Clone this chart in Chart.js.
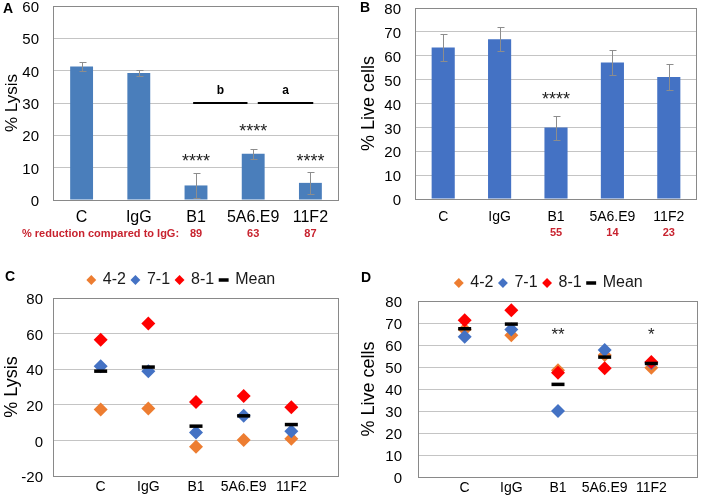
<!DOCTYPE html>
<html>
<head>
<meta charset="utf-8">
<script src="https://cdn.jsdelivr.net/npm/chart.js@4.4.1/dist/chart.umd.min.js"></script>
<style>
  html, body { margin: 0; padding: 0; background: #fff; }
  #wrap { position: relative; width: 708px; height: 497px; overflow: hidden; background: #fff; }
  canvas { position: absolute; }
</style>
</head>
<body>
<div id="wrap">
  <canvas id="chartA" width="354" height="250" style="left:0;top:0"></canvas>
  <canvas id="chartB" width="354" height="250" style="left:354px;top:0"></canvas>
  <canvas id="chartC" width="354" height="247" style="left:0;top:250px"></canvas>
  <canvas id="chartD" width="354" height="247" style="left:354px;top:250px"></canvas>
</div>
<script>
///////////////////////////////// DATA

const categories = ['C', 'IgG', 'B1', '5A6.E9', '11F2'];

// A : % lysis, mean + sd
const lysis = [41.3, 39.3, 4.5, 14.3, 5.3];
const lysisErr = [1.4, 0.8, 4.0, 1.6, 3.4];
const lysisStars = ['', '', '****', '****', '****'];
const lysisStarY = [null, null, 13.4, 22.7, 13.4];
const lysisReduction = ['', '', '89', '63', '87'];
// brackets between B1 / 5A6.E9 / 11F2
const bracketFrom = [1.95, 3.08];
const bracketTo = [2.9, 4.05];
const bracketText = ['b', 'a'];
const bracketY = 30;
const bracketTextY = 33.8;

// B : % live cells, mean + sd
const live = [63.5, 66.9, 29.9, 57.2, 51.1];
const liveErr = [5.5, 5.0, 5.0, 5.1, 5.3];
const liveStars = ['', '', '****', '', ''];
const liveStarY = [null, null, 43.9, null, null];
const liveReduction = ['', '', '55', '14', '23'];

// C : % lysis per donor
const lysis42 = [17.3, 17.9, -3.5, 0.2, 0.9];
const lysis71 = [41.7, 38.9, 4.5, 13.8, 5.2];
const lysis81 = [56.6, 65.7, 21.6, 25.0, 18.6];
const lysisAvg = [38.9, 41.2, 8.0, 13.8, 8.9];

// D : % live cells per donor
const live42 = [67.0, 64.4, 48.5, 55.5, 49.7];
const live71 = [63.8, 67.1, 30.0, 57.7, 51.8];
const live81 = [71.2, 75.8, 47.4, 49.4, 52.3];
const liveAvg = [67.4, 69.5, 42.1, 54.5, 51.6];
const liveDonorStars = ['', '', '**', '', '*'];
const liveDonorStarY = [null, null, 66.8, null, 66.8];

///////////////////////////////// STYLE

const FONT = '"Liberation Sans", Arial, Helvetica, sans-serif';
Chart.defaults.font.family = FONT;
Chart.defaults.color = '#000';

const frameColor = '#898989';
const gridColor = '#c4c4c4';
const redText = '#c8232f';

///////////////////////////////// PLUGIN : cadre, barres d'erreur, étoiles, textes

const panelDeco = {
    id: 'panelDeco',
    afterLayout(chart, args, opts) {
        //décale la légende
        if (opts.legendShift && chart.legend) {
            chart.legend.left += opts.legendShift;
            chart.legend.right += opts.legendShift;
        }
    },
    beforeDatasetsDraw(chart) {
        const a = chart.chartArea, ctx = chart.ctx;
        ctx.save();
        ctx.strokeStyle = frameColor;
        ctx.lineWidth = 1;
        ctx.strokeRect(a.left + 0.5, a.top + 0.5, a.right - a.left - 1, a.bottom - a.top);
        ctx.restore();
    },
    afterDatasetsDraw(chart, args, opts) {
        const ctx = chart.ctx, x = chart.scales.x, y = chart.scales.y, area = chart.chartArea;
        const base = opts.xBase || 0;
        const px = i => x.getPixelForValue(i + base);
        ctx.save();

        //barres d'erreur
        if (opts.err) {
            ctx.strokeStyle = '#8d8d8d';
            ctx.lineWidth = 1;
            opts.values.forEach((v, i) => {
                const cx = Math.round(px(i)) + 0.5;
                const hi = Math.round(y.getPixelForValue(v + opts.err[i])) + 0.5;
                const lo = Math.round(y.getPixelForValue(v - opts.err[i])) + 0.5;
                ctx.beginPath();
                ctx.moveTo(cx, hi); ctx.lineTo(cx, lo);
                ctx.moveTo(cx - 3, hi); ctx.lineTo(cx + 4, hi);
                ctx.moveTo(cx - 3, lo); ctx.lineTo(cx + 4, lo);
                ctx.stroke();
            });
        }

        //étoiles
        if (opts.stars) {
            ctx.fillStyle = '#222';
            ctx.font = opts.starSize + 'px ' + FONT;
            ctx.textAlign = 'center';
            ctx.textBaseline = 'alphabetic';
            opts.stars.forEach((s, i) => {
                if (!s) return;
                ctx.fillText(s, px(i), y.getPixelForValue(opts.starY[i]) + opts.starSize * 0.58);
            });
        }

        //traits a / b
        if (opts.brackets) {
            ctx.strokeStyle = '#000';
            ctx.lineWidth = 2;
            ctx.fillStyle = '#000';
            ctx.font = 'bold 12px ' + FONT;
            ctx.textAlign = 'center';
            ctx.textBaseline = 'middle';
            const yy = Math.round(y.getPixelForValue(bracketY));
            bracketFrom.forEach((f, k) => {
                ctx.beginPath();
                ctx.moveTo(px(f), yy);
                ctx.lineTo(px(bracketTo[k]), yy);
                ctx.stroke();
                ctx.fillText(bracketText[k], (px(f) + px(bracketTo[k])) / 2, y.getPixelForValue(bracketTextY));
            });
        }

        //ligne rouge "% reduction"
        if (opts.reduction) {
            ctx.fillStyle = redText;
            ctx.font = 'bold 11px ' + FONT;
            ctx.textBaseline = 'middle';
            const ry = area.bottom + 33.5;
            if (opts.reductionLabel) {
                ctx.textAlign = 'left';
                ctx.fillText(opts.reductionLabel, opts.reductionLabelX, ry);
            }
            ctx.textAlign = 'center';
            opts.reduction.forEach((r, i) => { if (r) ctx.fillText(r, px(i), ry); });
        }

        //lettre du panneau
        ctx.fillStyle = '#000';
        ctx.font = 'bold 14px ' + FONT;
        ctx.textAlign = 'center';
        ctx.textBaseline = 'middle';
        ctx.fillText(opts.letter, opts.letterX, opts.letterY);
        ctx.restore();
    }
};

///////////////////////////////// AXES

function valueAxis(min, max, step, title, o) {
    return {
        min: min,
        max: max,
        ticks: { stepSize: step, padding: o.tickPad, labelOffset: 2, font: { size: 15 }, color: '#000' },
        grid: { color: gridColor, drawTicks: false },
        border: { display: false },
        title: { display: true, text: title, color: '#000', font: { size: o.titleSize }, padding: { top: o.titlePad, bottom: 0 } },
        afterFit(s) { s.width = o.width; s.paddingTop = o.top; s.paddingBottom = 0; }
    };
}

function categoryAxis(size, pad, height) {
    return {
        grid: { display: false, drawTicks: false },
        border: { display: false },
        ticks: { padding: pad, font: { size: size }, color: '#000', maxRotation: 0, autoSkip: false },
        afterFit(s) { s.height = height; s.paddingLeft = 0; s.paddingRight = 0; }
    };
}

function donorAxis(height) {
    return {
        type: 'linear',
        min: 0,
        max: 6,
        grid: { display: false, drawTicks: false },
        border: { display: false },
        ticks: {
            stepSize: 1, autoSkip: false, maxRotation: 0, padding: 3,
            font: { size: 14 }, color: '#000',
            callback: v => categories[v - 1] || ''
        },
        afterFit(s) { s.height = height; s.paddingLeft = 0; s.paddingRight = 0; }
    };
}

function donorSets(a42, a71, a81, avg) {
    const pts = arr => arr.map((v, i) => ({ x: i + 1, y: v }));
    return [
        { label: '4-2', data: pts(a42), pointStyle: 'rectRot', pointRadius: 7, backgroundColor: '#ed7d31', borderColor: '#ed7d31', borderWidth: 0, order: 4 },
        { label: '7-1', data: pts(a71), pointStyle: 'rectRot', pointRadius: 7, backgroundColor: '#4472c4', borderColor: '#4472c4', borderWidth: 0, order: 3 },
        { label: '8-1', data: pts(a81), pointStyle: 'rectRot', pointRadius: 7, backgroundColor: '#ff0000', borderColor: '#ff0000', borderWidth: 0, order: 2 },
        { label: 'Mean', data: pts(avg), pointStyle: 'line', pointRadius: 6.5, backgroundColor: '#000', borderColor: '#000', borderWidth: 3.5, order: 1 }
    ];
}

const donorLegend = {
    display: true,
    position: 'top',
    labels: {
        usePointStyle: true, boxWidth: 7, boxHeight: 7, padding: 6,
        color: '#1a1a1a', font: { size: 16 },
        sort: (a, b) => a.datasetIndex - b.datasetIndex
    }
};

///////////////////////////////// GRAPH A : % LYSIS

new Chart(document.getElementById('chartA'), {
    type: 'bar',
    data: {
        labels: categories,
        datasets: [{ data: lysis, backgroundColor: '#4a7ebb', barPercentage: 0.4, categoryPercentage: 1 }]
    },
    options: {
        responsive: false, animation: false, events: [], devicePixelRatio: 1,
        layout: { padding: { left: 0, right: 15, top: 0, bottom: 0 } },
        plugins: {
            legend: { display: false },
            tooltip: { enabled: false },
            panelDeco: {
                letter: 'A', letterX: 8, letterY: 9,
                values: lysis, err: lysisErr,
                stars: lysisStars, starY: lysisStarY, starSize: 18,
                brackets: true,
                reduction: lysisReduction, reductionLabel: '% reduction compared to IgG:', reductionLabelX: 22
            }
        },
        scales: {
            x: categoryAxis(16, 8, 50),
            y: valueAxis(0, 60, 10, '% Lysis', { tickPad: 14, titleSize: 17, titlePad: 2, width: 53, top: 6 })
        }
    },
    plugins: [panelDeco]
});

///////////////////////////////// GRAPH B : % LIVE CELLS

new Chart(document.getElementById('chartB'), {
    type: 'bar',
    data: {
        labels: categories,
        datasets: [{ data: live, backgroundColor: '#4472c4', barPercentage: 0.41, categoryPercentage: 1 }]
    },
    options: {
        responsive: false, animation: false, events: [], devicePixelRatio: 1,
        layout: { padding: { left: 0, right: 11, top: 0, bottom: 0 } },
        plugins: {
            legend: { display: false },
            tooltip: { enabled: false },
            panelDeco: {
                letter: 'B', letterX: 11, letterY: 8,
                values: live, err: liveErr,
                stars: liveStars, starY: liveStarY, starSize: 18,
                reduction: liveReduction
            }
        },
        scales: {
            x: categoryAxis(14, 10, 51),
            y: valueAxis(0, 80, 10, '% Live cells', { tickPad: 14, titleSize: 18, titlePad: 4, width: 61, top: 8 })
        }
    },
    plugins: [panelDeco]
});

///////////////////////////////// GRAPH C : % LYSIS PAR DONNEUR

new Chart(document.getElementById('chartC'), {
    type: 'scatter',
    data: { datasets: donorSets(lysis42, lysis71, lysis81, lysisAvg) },
    options: {
        responsive: false, animation: false, events: [], devicePixelRatio: 1,
        layout: { padding: { left: 0, right: 15, top: 8, bottom: 0 } },
        plugins: {
            legend: donorLegend,
            tooltip: { enabled: false },
            panelDeco: { letter: 'C', letterX: 10, letterY: 27, legendShift: 12 }
        },
        scales: {
            x: donorAxis(21),
            y: valueAxis(-20, 80, 20, '% Lysis', { tickPad: 10, titleSize: 18, titlePad: 1, width: 53, top: 48 })
        }
    },
    plugins: [panelDeco]
});

///////////////////////////////// GRAPH D : % LIVE CELLS PAR DONNEUR

new Chart(document.getElementById('chartD'), {
    type: 'scatter',
    data: { datasets: donorSets(live42, live71, live81, liveAvg) },
    options: {
        responsive: false, animation: false, events: [], devicePixelRatio: 1,
        layout: { padding: { left: 0, right: 3, top: 11, bottom: 0 } },
        plugins: {
            legend: donorLegend,
            tooltip: { enabled: false },
            panelDeco: {
                letter: 'D', letterX: 12, letterY: 28, legendShift: 19.5, xBase: 1,
                stars: liveDonorStars, starY: liveDonorStarY, starSize: 17
            }
        },
        scales: {
            x: donorAxis(20),
            y: valueAxis(0, 80, 10, '% Live cells', { tickPad: 16, titleSize: 18, titlePad: 4, width: 64, top: 51 })
        }
    },
    plugins: [panelDeco]
});
</script>
</body>
</html>
